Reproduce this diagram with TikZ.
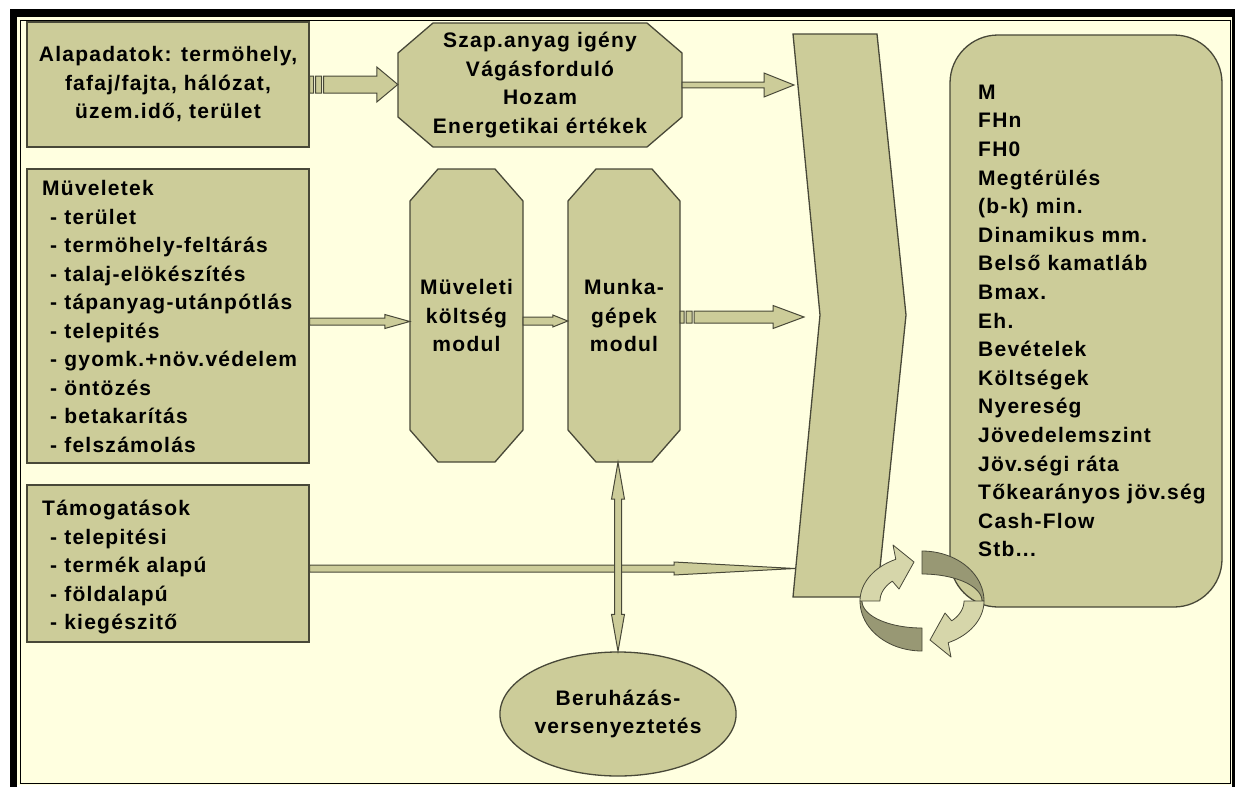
\documentclass[tikz,border=0pt]{standalone}
\usepackage{fontspec}
\setmainfont{Liberation Sans}[LetterSpace=6]
\usetikzlibrary{shapes.geometric,calc}
\definecolor{cream}{RGB}{255,255,224}
\definecolor{khaki}{RGB}{204,204,153}
\definecolor{edgec}{RGB}{72,72,56}
\definecolor{lightk}{RGB}{214,214,170}
\definecolor{darkk}{RGB}{152,152,116}
\newcommand\ind{\hspace*{8pt}}
\newcommand\blockarrow[5]{%
  \draw[barrow] let \p1=(#1), \p2=(#2) in
   (\x1,{\y1+#3}) -- ({\x2-#5},{\y1+#3}) -- ({\x2-#5},{\y1+#4}) -- (\x2,\y1)
   -- ({\x2-#5},{\y1-#4}) -- ({\x2-#5},{\y1-#3}) -- (\x1,{\y1-#3}) -- cycle;}
\newcommand\stripedarrow[5]{%
  \draw[barrow] let \p1=(#1), \p2=(#2) in
   (\x1,{\y1+#3}) rectangle ({\x1+4pt},{\y1-#3})
   ({\x1+6pt},{\y1+#3}) rectangle ({\x1+12pt},{\y1-#3})
   ({\x1+14pt},{\y1+#3}) -- ({\x2-#5},{\y1+#3}) -- ({\x2-#5},{\y1+#4}) -- (\x2,\y1)
   -- ({\x2-#5},{\y1-#4}) -- ({\x2-#5},{\y1-#3}) -- ({\x1+14pt},{\y1-#3}) -- cycle;}
\newcommand\octagon[6]{%
  \draw[boxst] ({#1-#3+#5},{#2-#4}) -- ({#1+#3-#5},{#2-#4}) -- ({#1+#3},{#2-#4+#6})
   -- ({#1+#3},{#2+#4-#6}) -- ({#1+#3-#5},{#2+#4}) -- ({#1-#3+#5},{#2+#4})
   -- ({#1-#3},{#2+#4-#6}) -- ({#1-#3},{#2-#4+#6}) -- cycle;}
\newcommand\ringarrow{%
  \draw[fill=darkk,draw=edgec,line width=0.8pt,line join=round]
    plot[domain=180:90,samples=24] ({922+62*cos(\x)},{601+50*sin(\x)})
    -- plot[domain=90:180,samples=24] ({922+60*cos(\x)},{601+27*sin(\x)}) -- cycle;
  \draw[fill=lightk,draw=edgec,line width=0.8pt,line join=round]
    plot[domain=180:245,samples=20] ({922+62*cos(\x)},{601+46*sin(\x)})
    -- (893,545) -- (914,562) -- (899,589)
    -- plot[domain=225:180,samples=20] ({922+42*cos(\x)},{601+28*sin(\x)}) -- cycle;}
\begin{document}
\begin{tikzpicture}[x=1pt,y=-1pt,
  boxst/.style={draw=edgec,fill=khaki,line width=1.3pt,line join=miter},
  box/.style={boxst,inner sep=0pt},
  txt/.style={font=\fontsize{21pt}{28.5pt}\selectfont\bfseries,text=black},
  barrow/.style={draw=edgec,fill=khaki,line width=1pt,line join=miter}]
\useasboundingbox (0,0) rectangle (1236,787);
\fill[white] (0,0) rectangle (1236,787);
\fill[black] (10,9) rectangle (1235,787);
\fill[white] (17,785) rectangle (1232,787);
\fill[cream] (17,17) rectangle (1232,785);
\draw[black,line width=1.6pt] (20.5,20.5) rectangle (1230.5,783.5);

% left boxes
\node[box,txt,align=center,minimum width=282pt,minimum height=125pt] (alap) at (168,84.5)
  {Alapadatok: termöhely,\\fafaj/fajta, hálózat,\\üzem.idő, terület};
\node[box,minimum width=282pt,minimum height=294pt] (muv) at (168,316) {};
\node[txt,align=left,anchor=west,inner sep=0pt] (muvt) at (42,316.5)
  {Müveletek\\\ind- terület\\\ind- termöhely-feltárás\\\ind- talaj-elökészítés\\\ind- tápanyag-utánpótlás\\\ind- telepités\\\ind- gyomk.+növ.védelem\\\ind- öntözés\\\ind- betakarítás\\\ind- felszámolás};
\node[box,minimum width=282pt,minimum height=157pt] (tam) at (168,563.5) {};
\node[txt,align=left,anchor=west,inner sep=0pt] (tamt) at (42,567.5)
  {Támogatások\\\ind- telepitési\\\ind- termék alapú\\\ind- földalapú\\\ind- kiegészitő};

% octagons
\octagon{540}{85}{142}{62}{35}{30}
\node[txt,align=center,minimum width=284pt,minimum height=124pt,inner sep=0pt] (szap) at (540,85)
  {Szap.anyag igény\\Vágásforduló\\Hozam\\Energetikai értékek};
\octagon{466.5}{315.5}{56.5}{146.5}{28}{32}
\node[txt,align=center,minimum width=113pt,minimum height=293pt,inner sep=0pt] (mkm) at (466.5,315.5)
  {Müveleti\\költség\\modul};
\octagon{624}{315.5}{56}{146.5}{28}{32}
\node[txt,align=center,minimum width=112pt,minimum height=293pt,inner sep=0pt] (mgm) at (624,315.5)
  {Munka-\\gépek\\modul};

% chevron
\draw[boxst] (793,34) -- (877,34) -- (906,315) -- (877,597) -- (793,597) -- (820,315) -- cycle;
\coordinate (chA) at (794,85);
\coordinate (chB) at (804,316);
\coordinate (chC) at (795,569);

% result box
\node[box,rounded corners=48pt,minimum width=272pt,minimum height=572pt] (res) at (1086,321) {};
\node[txt,align=left,anchor=west,inner sep=0pt,font=\fontsize{21pt}{28.6pt}\selectfont\bfseries] (rest) at (978,321)
  {M\\FHn\\FH0\\Megtérülés\\(b-k) min.\\Dinamikus mm.\\Belső kamatláb\\Bmax.\\Eh.\\Bevételek\\Költségek\\Nyereség\\Jövedelemszint\\Jöv.ségi ráta\\Tőkearányos jöv.ség\\Cash-Flow\\Stb...};

% ellipse
\node[box,ellipse,txt,align=center,minimum width=214pt,minimum height=124pt] (ber) at (618,714)
  {Beruházás-\\versenyeztetés};

% arrows
\stripedarrow{alap.east}{szap.west}{8.5pt}{17.5pt}{21pt}
\blockarrow{szap.east}{chA}{2.8pt}{12pt}{30pt}
\blockarrow{muv.east |- 0,321.5}{mkm.west}{3.5pt}{7pt}{25pt}
\blockarrow{mkm.east |- 0,321}{mgm.west}{4pt}{6pt}{15pt}
\stripedarrow{mgm.east |- 0,317}{chB}{6pt}{11.5pt}{31pt}
\blockarrow{tam.east |- 0,568.5}{chC}{3.5pt}{6.5pt}{121pt}
\draw[barrow] let \p1=(mgm.south -| ber.north), \p2=(ber.north) in
  (\x1,\y1) -- ({\x1+6.5pt},{\y1-37pt}) -- ({\x1+3.5pt},{\y1-37pt}) -- ({\x1+3.5pt},{\y2+37pt})
  -- ({\x1+6.5pt},{\y2+37pt}) -- (\x1,\y2) -- ({\x1-6.5pt},{\y2+37pt}) -- ({\x1-3.5pt},{\y2+37pt})
  -- ({\x1-3.5pt},{\y1-37pt}) -- ({\x1-6.5pt},{\y1-37pt}) -- cycle;

% circular arrows
\ringarrow
\begin{scope}[rotate around={180:(922,601)}]
\ringarrow
\end{scope}
\end{tikzpicture}
\end{document}
